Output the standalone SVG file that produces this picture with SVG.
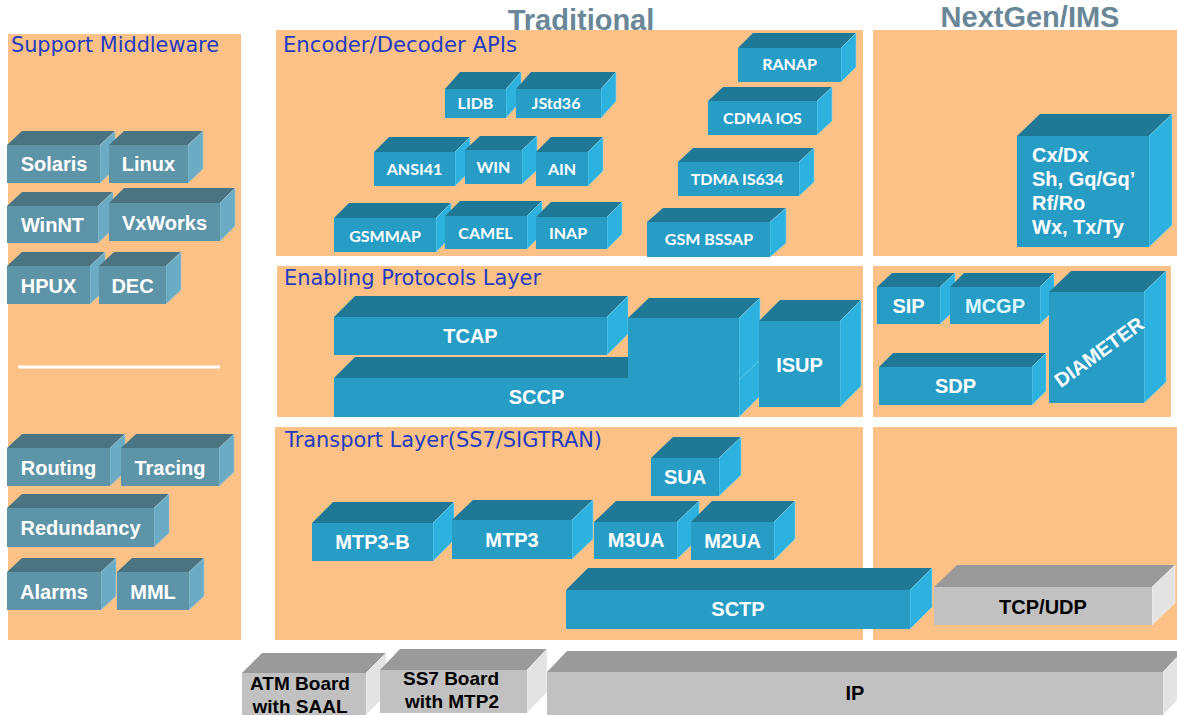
<svg xmlns="http://www.w3.org/2000/svg" width="1177" height="715" viewBox="0 0 1177 715">
  <style>
    .panel { fill: #FBC186; }
    .title { font-family: "Liberation Sans", Arial, sans-serif; font-weight: bold; font-size: 29px; fill: #6A8798; text-anchor: middle; }
    .head { font-family: "DejaVu Sans", Verdana, sans-serif; font-size: 21px; fill: #1E3CC0; }
    /* blue protocol blocks */
    .b .f { fill: #279DC6; }
    .b .t { fill: #1F7896; }
    .b .s { fill: #2DB2DF; stroke: #7FD3EE; stroke-width: 0.6; }
    /* steel middleware blocks */
    .m .f { fill: #5E94A8; }
    .m .t { fill: #4B7483; }
    .m .s { fill: #6BABC4; stroke: #9CC8D8; stroke-width: 0.6; }
    /* grey hardware blocks */
    .g .f { fill: #C1C1C1; }
    .g .t { fill: #9A9A9A; }
    .g .s { fill: #E3E3E3; stroke: #F4F4F4; stroke-width: 0.6; }
    .lbl { font-family: "Liberation Sans", Arial, sans-serif; font-weight: bold; font-size: 20px; fill: #FFFFFF; text-anchor: middle; }
    .api { font-family: Lato, "Open Sans", sans-serif; font-weight: bold; font-size: 16px; fill: #FFFFFF; text-anchor: middle; }
    .dark { fill: #000000; }
    .multi { text-anchor: start; }
  </style>

  <!-- background -->
  <rect x="0" y="0" width="1177" height="715" fill="#FFFFFF"/>

  <!-- layer panels -->
  <g id="panels">
    <rect class="panel" x="8" y="34" width="233" height="606"/>
    <rect class="panel" x="276" y="30" width="587" height="226"/>
    <rect class="panel" x="873" y="30" width="304" height="226"/>
    <rect class="panel" x="277" y="266" width="586" height="151"/>
    <rect class="panel" x="873" y="266" width="298" height="151"/>
    <rect class="panel" x="275" y="427" width="588" height="213"/>
    <rect class="panel" x="873" y="427" width="304" height="213"/>
    <line x1="18" y1="367" x2="220" y2="367" stroke="#FFFFFF" stroke-width="3"/>
  </g>

  <!-- titles and layer headings -->
  <g id="headings">
    <text class="title" x="581" y="30">Traditional</text>
    <text class="title" x="1030" y="27">NextGen/IMS</text>
    <text class="head" x="11" y="52" textLength="208" lengthAdjust="spacingAndGlyphs">Support Middleware</text>
    <text class="head" x="283" y="52" textLength="234" lengthAdjust="spacingAndGlyphs">Encoder/Decoder APIs</text>
    <text class="head" x="284" y="285" textLength="257" lengthAdjust="spacingAndGlyphs">Enabling Protocols Layer</text>
    <text class="head" x="285" y="447" textLength="317" lengthAdjust="spacingAndGlyphs">Transport Layer(SS7/SIGTRAN)</text>
  </g>

  <!-- Support middleware -->
  <g id="solaris" class="m">
    <polygon class="t" points="7,145 22,131 115,131 100,145"/>
    <polygon class="s" points="100,145 115,131 115,169 100,183"/>
    <rect class="f" x="7" y="145" width="93" height="38"/>
    <text class="lbl" x="54" y="171">Solaris</text>
  </g>
  <g id="linux" class="m">
    <polygon class="t" points="109,145 124,131 203,131 188,145"/>
    <polygon class="s" points="188,145 203,131 203,169 188,183"/>
    <rect class="f" x="109" y="145" width="79" height="38"/>
    <text class="lbl" x="148.5" y="171">Linux</text>
  </g>
  <g id="winnt" class="m">
    <polygon class="t" points="7,206 22,192 113,192 98,206"/>
    <polygon class="s" points="98,206 113,192 113,229 98,243"/>
    <rect class="f" x="7" y="206" width="91" height="37"/>
    <text class="lbl" x="52.5" y="231.5">WinNT</text>
  </g>
  <g id="vxworks" class="m">
    <polygon class="t" points="109,203 124,188 235,188 220,203"/>
    <polygon class="s" points="220,203 235,188 235,226 220,241"/>
    <rect class="f" x="109" y="203" width="111" height="38"/>
    <text class="lbl" x="164.5" y="229.5">VxWorks</text>
  </g>
  <g id="hpux" class="m">
    <polygon class="t" points="7,266 22,252 105,252 90,266"/>
    <polygon class="s" points="90,266 105,252 105,290 90,304"/>
    <rect class="f" x="7" y="266" width="83" height="38"/>
    <text class="lbl" x="48.5" y="292.5">HPUX</text>
  </g>
  <g id="dec" class="m">
    <polygon class="t" points="99,266 114,252 181,252 166,266"/>
    <polygon class="s" points="166,266 181,252 181,290 166,304"/>
    <rect class="f" x="99" y="266" width="67" height="38"/>
    <text class="lbl" x="132.5" y="292.5">DEC</text>
  </g>
  <g id="routing" class="m">
    <polygon class="t" points="7,448 22,434 125,434 110,448"/>
    <polygon class="s" points="110,448 125,434 125,472 110,486"/>
    <rect class="f" x="7" y="448" width="103" height="38"/>
    <text class="lbl" x="58.5" y="475">Routing</text>
  </g>
  <g id="tracing" class="m">
    <polygon class="t" points="121,448 136,434 234,434 219,448"/>
    <polygon class="s" points="219,448 234,434 234,472 219,486"/>
    <rect class="f" x="121" y="448" width="98" height="38"/>
    <text class="lbl" x="170" y="475">Tracing</text>
  </g>
  <g id="redundancy" class="m">
    <polygon class="t" points="7,508 22,494 169,494 154,508"/>
    <polygon class="s" points="154,508 169,494 169,533 154,547"/>
    <rect class="f" x="7" y="508" width="147" height="39"/>
    <text class="lbl" x="80.5" y="535">Redundancy</text>
  </g>
  <g id="alarms" class="m">
    <polygon class="t" points="7,572 22,558 116,558 101,572"/>
    <polygon class="s" points="101,572 116,558 116,596 101,610"/>
    <rect class="f" x="7" y="572" width="94" height="38"/>
    <text class="lbl" x="54" y="598.5">Alarms</text>
  </g>
  <g id="mml" class="m">
    <polygon class="t" points="117,572 132,558 204,558 189,572"/>
    <polygon class="s" points="189,572 204,558 204,596 189,610"/>
    <rect class="f" x="117" y="572" width="72" height="38"/>
    <text class="lbl" x="153" y="598.5">MML</text>
  </g>

  <!-- Encoder/Decoder APIs -->
  <g id="lidb" class="b">
    <polygon class="t" points="445,89 460,72 521,72 506,89"/>
    <polygon class="s" points="506,89 521,72 521,101 506,118"/>
    <rect class="f" x="445" y="89" width="61" height="29"/>
    <text class="api" x="475.5" y="109">LIDB</text>
  </g>
  <g id="jstd36" class="b">
    <polygon class="t" points="516,89 531,72 616,72 601,89"/>
    <polygon class="s" points="601,89 616,72 616,101 601,118"/>
    <rect class="f" x="516" y="89" width="85" height="29"/>
    <text class="api" x="556" y="109">JStd36</text>
  </g>
  <g id="ansi41" class="b">
    <polygon class="t" points="374,152 389,137 470,137 455,152"/>
    <polygon class="s" points="455,152 470,137 470,171 455,186"/>
    <rect class="f" x="374" y="152" width="81" height="34"/>
    <text class="api" x="414.5" y="175">ANSI41</text>
  </g>
  <g id="win" class="b">
    <polygon class="t" points="465,150 480,136 537,136 522,150"/>
    <polygon class="s" points="522,150 537,136 537,170 522,184"/>
    <rect class="f" x="465" y="150" width="57" height="34"/>
    <text class="api" x="493.5" y="173">WIN</text>
  </g>
  <g id="ain" class="b">
    <polygon class="t" points="536,152 551,137 603,137 588,152"/>
    <polygon class="s" points="588,152 603,137 603,171 588,186"/>
    <rect class="f" x="536" y="152" width="52" height="34"/>
    <text class="api" x="562" y="175">AIN</text>
  </g>
  <g id="gsmmap" class="b">
    <polygon class="t" points="334,218 349,203 451,203 436,218"/>
    <polygon class="s" points="436,218 451,203 451,237 436,252"/>
    <rect class="f" x="334" y="218" width="102" height="34"/>
    <text class="api" x="385" y="241.5">GSMMAP</text>
  </g>
  <g id="camel" class="b">
    <polygon class="t" points="445,216 460,201 542,201 527,216"/>
    <polygon class="s" points="527,216 542,201 542,234 527,249"/>
    <rect class="f" x="445" y="216" width="82" height="33"/>
    <text class="api" x="485.5" y="238.5">CAMEL</text>
  </g>
  <g id="inap" class="b">
    <polygon class="t" points="536,217 551,202 622,202 607,217"/>
    <polygon class="s" points="607,217 622,202 622,234 607,249"/>
    <rect class="f" x="536" y="217" width="71" height="32"/>
    <text class="api" x="568" y="238.5">INAP</text>
  </g>
  <g id="ranap" class="b">
    <polygon class="t" points="738,48 753,33 856,33 841,48"/>
    <polygon class="s" points="841,48 856,33 856,67 841,82"/>
    <rect class="f" x="738" y="48" width="103" height="34"/>
    <text class="api" x="789.5" y="70">RANAP</text>
  </g>
  <g id="cdma-ios" class="b">
    <polygon class="t" points="708,101 723,87 832,87 817,101"/>
    <polygon class="s" points="817,101 832,87 832,121 817,135"/>
    <rect class="f" x="708" y="101" width="109" height="34"/>
    <text class="api" x="762.5" y="123.5">CDMA IOS</text>
  </g>
  <g id="tdma-is634" class="b">
    <polygon class="t" points="678,162 693,148 814,148 799,162"/>
    <polygon class="s" points="799,162 814,148 814,182 799,196"/>
    <rect class="f" x="678" y="162" width="121" height="34"/>
    <text class="api" x="737" y="184.5">TDMA IS634</text>
  </g>
  <g id="gsm-bssap" class="b">
    <polygon class="t" points="647,222 663,208 786,208 770,222"/>
    <polygon class="s" points="770,222 786,208 786,243 770,257"/>
    <rect class="f" x="647" y="222" width="123" height="35"/>
    <text class="api" x="709" y="245">GSM BSSAP</text>
  </g>

  <!-- NextGen interfaces -->
  <g id="diameter-apps" class="b">
    <polygon class="t" points="1017,136 1040,114 1172,114 1149,136"/>
    <polygon class="s" points="1149,136 1172,114 1172,225 1149,247"/>
    <rect class="f" x="1017" y="136" width="132" height="111"/>
    <text class="lbl multi" x="1032" y="161.5">Cx/Dx</text>
    <text class="lbl multi" x="1032" y="185.5">Sh, Gq/Gq’</text>
    <text class="lbl multi" x="1032" y="209.5">Rf/Ro</text>
    <text class="lbl multi" x="1032" y="233.5">Wx, Tx/Ty</text>
  </g>

  <!-- Enabling protocols -->
  <g id="sccp" class="b">
    <polygon class="t" points="334,378 355,357 760,357 739,378"/>
    <polygon class="s" points="739,378 760,357 760,396 739,417"/>
    <rect class="f" x="334" y="378" width="405" height="39"/>
    <text class="lbl" x="536.5" y="404">SCCP</text>
  </g>
  <g id="tcap" class="b">
    <polygon class="t" points="334,317 355,296 628,296 607,317"/>
    <polygon class="s" points="607,317 628,296 628,334 607,355"/>
    <rect class="f" x="334" y="317" width="273" height="38"/>
    <text class="lbl" x="470.5" y="343">TCAP</text>
  </g>
  <g id="user-part" class="b">
    <polygon class="t" points="628,318 649,298 760,298 739,318"/>
    <polygon class="s" points="739,318 760,298 760,360 739,380"/>
    <rect class="f" x="628" y="318" width="111" height="62"/>
  </g>
  <g id="isup" class="b">
    <polygon class="t" points="759,321 780,300 861,300 840,321"/>
    <polygon class="s" points="840,321 861,300 861,386 840,407"/>
    <rect class="f" x="759" y="321" width="81" height="86"/>
    <text class="lbl" x="799.5" y="372">ISUP</text>
  </g>
  <g id="sip" class="b">
    <polygon class="t" points="877,287 892,273 955,273 940,287"/>
    <polygon class="s" points="940,287 955,273 955,310 940,324"/>
    <rect class="f" x="877" y="287" width="63" height="37"/>
    <text class="lbl" x="908.5" y="312.5">SIP</text>
  </g>
  <g id="mcgp" class="b">
    <polygon class="t" points="950,287 964,273 1054,273 1040,287"/>
    <polygon class="s" points="1040,287 1054,273 1054,310 1040,324"/>
    <rect class="f" x="950" y="287" width="90" height="37"/>
    <text class="lbl" x="995" y="312.5" style="fill:#DDF8FF">MCGP</text>
  </g>
  <g id="sdp" class="b">
    <polygon class="t" points="879,367 893,353 1046,353 1032,367"/>
    <polygon class="s" points="1032,367 1046,353 1046,391 1032,405"/>
    <rect class="f" x="879" y="367" width="153" height="38"/>
    <text class="lbl" x="955.5" y="393">SDP</text>
  </g>
  <g id="diameter" class="b">
    <polygon class="t" points="1049,292 1071,271 1166,271 1144,292"/>
    <polygon class="s" points="1144,292 1166,271 1166,382 1144,403"/>
    <rect class="f" x="1049" y="292" width="95" height="111"/>
    <text class="lbl" transform="translate(1099,352) rotate(-36)" x="0" y="7">DIAMETER</text>
  </g>

  <!-- Transport layer -->
  <g id="sua" class="b">
    <polygon class="t" points="651,458 673,437 741,437 719,458"/>
    <polygon class="s" points="719,458 741,437 741,475 719,496"/>
    <rect class="f" x="651" y="458" width="68" height="38"/>
    <text class="lbl" x="685" y="484">SUA</text>
  </g>
  <g id="mtp3-b" class="b">
    <polygon class="t" points="312,523 333,502 454,502 433,523"/>
    <polygon class="s" points="433,523 454,502 454,540 433,561"/>
    <rect class="f" x="312" y="523" width="121" height="38"/>
    <text class="lbl" x="372.5" y="549">MTP3-B</text>
  </g>
  <g id="mtp3" class="b">
    <polygon class="t" points="452,520 473,500 593,500 572,520"/>
    <polygon class="s" points="572,520 593,500 593,539 572,559"/>
    <rect class="f" x="452" y="520" width="120" height="39"/>
    <text class="lbl" x="512" y="546.5">MTP3</text>
  </g>
  <g id="m3ua" class="b">
    <polygon class="t" points="594,522 616,501 699,501 677,522"/>
    <polygon class="s" points="677,522 699,501 699,538 677,559"/>
    <rect class="f" x="594" y="522" width="83" height="37"/>
    <text class="lbl" x="636" y="547">M3UA</text>
  </g>
  <g id="m2ua" class="b">
    <polygon class="t" points="691,522 712,501 795,501 774,522"/>
    <polygon class="s" points="774,522 795,501 795,539 774,560"/>
    <rect class="f" x="691" y="522" width="83" height="38"/>
    <text class="lbl" x="732.5" y="548">M2UA</text>
  </g>
  <g id="sctp" class="b">
    <polygon class="t" points="566,590 588,568 932,568 910,590"/>
    <polygon class="s" points="910,590 932,568 932,607 910,629"/>
    <rect class="f" x="566" y="590" width="344" height="39"/>
    <text class="lbl" x="738" y="616">SCTP</text>
  </g>
  <g id="tcp-udp" class="g">
    <polygon class="t" points="934,587 957,565 1175,565 1152,587"/>
    <polygon class="s" points="1152,587 1175,565 1175,603 1152,625"/>
    <rect class="f" x="934" y="587" width="218" height="38"/>
    <text class="lbl dark" x="1043" y="614">TCP/UDP</text>
  </g>

  <!-- Hardware / network boards -->
  <g id="atm-board" class="g">
    <polygon class="t" points="242,673 262,653 386,653 366,673"/>
    <polygon class="s" points="366,673 386,653 386,695 366,715"/>
    <rect class="f" x="242" y="673" width="124" height="42"/>
    <text class="lbl dark" x="300" y="690" style="font-size:19px">ATM Board</text>
    <text class="lbl dark" x="300" y="713" style="font-size:19px">with SAAL</text>
  </g>
  <g id="ss7-board" class="g">
    <polygon class="t" points="380,670 400,649 547,649 527,670"/>
    <polygon class="s" points="527,670 547,649 547,692 527,713"/>
    <rect class="f" x="380" y="670" width="147" height="43"/>
    <text class="lbl dark" x="451" y="685" style="font-size:19px">SS7 Board</text>
    <text class="lbl dark" x="452" y="708" style="font-size:19px">with MTP2</text>
  </g>
  <g id="ip" class="g">
    <polygon class="t" points="547,672 567,651 1183,651 1163,672"/>
    <polygon class="s" points="1163,672 1183,651 1183,694 1163,715"/>
    <rect class="f" x="547" y="672" width="616" height="43"/>
    <text class="lbl dark" x="855" y="700">IP</text>
  </g>
</svg>
